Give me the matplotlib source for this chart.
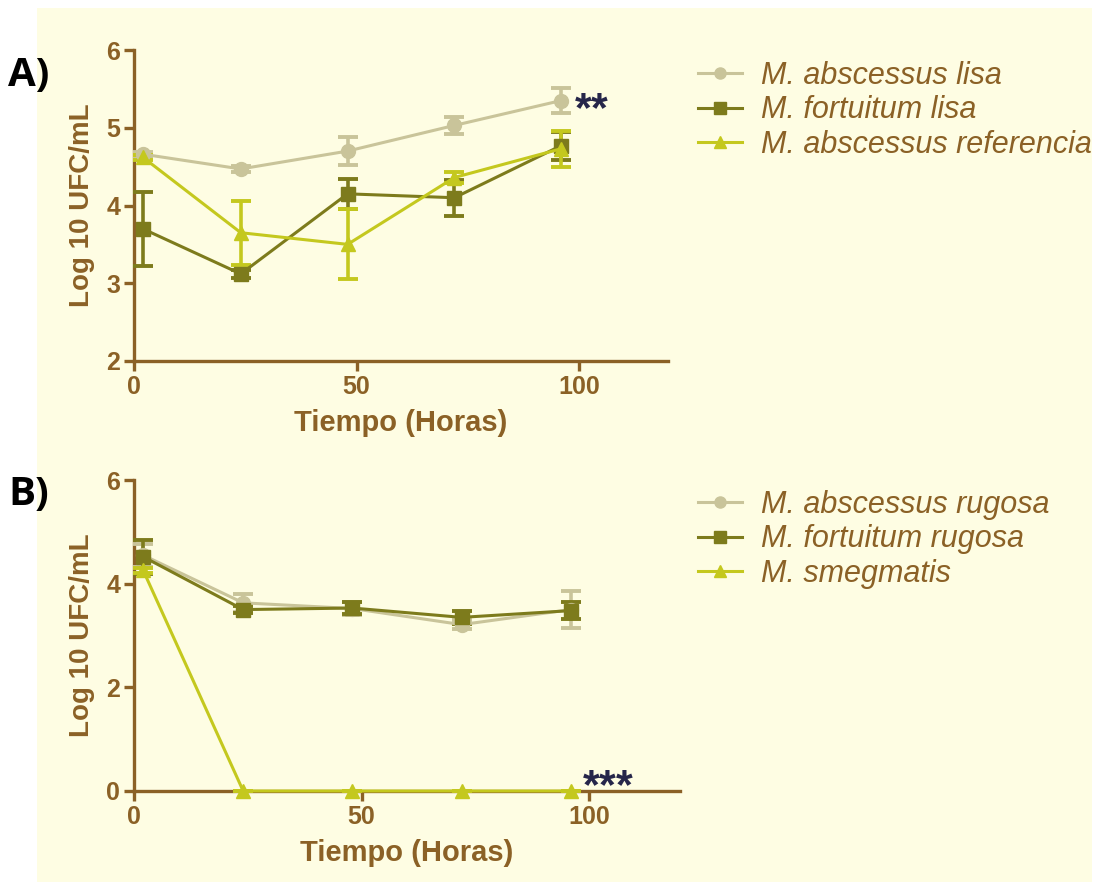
import matplotlib.pyplot as plt
from matplotlib.lines import Line2D
from matplotlib.patches import Rectangle

# Hours sampled
horas = [2, 24, 48, 72, 96]

# Panel A: smooth morphotypes
abscessus_lisa = [4.66, 4.47, 4.70, 5.03, 5.35]
abscessus_lisa_err = [0.03, 0.04, 0.18, 0.11, 0.16]
fortuitum_lisa = [3.70, 3.12, 4.15, 4.10, 4.77]
fortuitum_lisa_err = [0.48, 0.05, 0.19, 0.23, 0.18]
abscessus_ref = [4.62, 3.65, 3.50, 4.36, 4.73]
abscessus_ref_err = [0.03, 0.41, 0.45, 0.07, 0.23]

# Panel B: rough morphotypes
abscessus_rugosa = [4.55, 3.63, 3.52, 3.21, 3.50]
abscessus_rugosa_err = [0.22, 0.17, 0.12, 0.08, 0.35]
fortuitum_rugosa = [4.52, 3.50, 3.53, 3.35, 3.48]
fortuitum_rugosa_err = [0.33, 0.07, 0.12, 0.12, 0.17]
smegmatis = [4.26, 0, 0, 0, 0]
smegmatis_err = [0.05, 0, 0, 0, 0]

labels_a = ["M. abscessus lisa", "M. fortuitum lisa", "M. abscessus referencia"]
labels_b = ["M. abscessus rugosa", "M. fortuitum rugosa", "M. smegmatis"]

C_LIGHT = "#c9c49a"
C_DARK = "#7d7b1c"
C_YELLOW = "#c4c81e"
BROWN = "#8b6126"
CREAM = "#fefde3"
STARS = "#26264a"

plt.rcParams["font.family"] = ["Liberation Sans", "DejaVu Sans"]
# bold sans asterisks for the significance marks
plt.rcParams["mathtext.fontset"] = "custom"
plt.rcParams["mathtext.rm"] = "Liberation Sans:bold"
plt.rcParams["mathtext.it"] = "Liberation Sans:bold"
plt.rcParams["mathtext.bf"] = "Liberation Sans:bold"

fig = plt.figure(figsize=(10.95, 8.82), dpi=100)
fig.patch.set_facecolor("white")
fig.add_artist(Rectangle((37 / 1095, 0), 1055 / 1095, 1 - 8 / 882,
                         transform=fig.transFigure, facecolor=CREAM,
                         edgecolor="none", zorder=0))


def serie(ax, y, err, color, marker):
    ax.errorbar(horas, y, yerr=err, color=color, marker=marker, ms=10,
                lw=2.2, elinewidth=2.6, capsize=7, capthick=2.8,
                clip_on=False, zorder=3)
    return Line2D([], [], color=color, marker=marker, ms=8, lw=2.2)


def estilo(ax, yticks, ylim):
    ax.set_facecolor("none")
    ax.set_xlim(0, 120)
    ax.set_ylim(*ylim)
    ax.set_xticks([0, 50, 100])
    ax.set_yticks(yticks)
    for s in ["top", "right"]:
        ax.spines[s].set_visible(False)
    for s in ["left", "bottom"]:
        ax.spines[s].set_color(BROWN)
        ax.spines[s].set_linewidth(2.4)
    ax.tick_params(colors=BROWN, width=2.4, length=7, labelsize=18, pad=3)
    for t in ax.get_xticklabels() + ax.get_yticklabels():
        t.set_fontweight("bold")
    ax.set_xlabel("Tiempo (Horas)", fontsize=21, fontweight="bold",
                  color=BROWN, labelpad=7)
    ax.set_ylabel("Log 10 UFC/mL", fontsize=20, fontweight="bold",
                  color=BROWN, labelpad=8)


def leyenda(ax, handles, labels, top):
    leg = ax.legend(handles, labels, loc="upper left",
                    bbox_to_anchor=(698 / 1095, top),
                    bbox_transform=fig.transFigure, frameon=False,
                    fontsize=22, handlelength=1.45, handletextpad=0.6,
                    labelspacing=0.14, borderpad=0, borderaxespad=0)
    for t in leg.get_texts():
        t.set_color(BROWN)
        t.set_fontstyle("italic")


def estrellas(ax, x, y, n):
    # mathtext keeps the box tight around the asterisks
    ax.text(x, y, "$" + "{*}" * n + "$", color=STARS, fontsize=31,
            va="bottom", ha="left")


# Panel A
ax1 = fig.add_axes([134 / 1095, 1 - 361 / 882, 534 / 1095, 311 / 882])
h_a = [serie(ax1, abscessus_lisa, abscessus_lisa_err, C_LIGHT, "o"),
       serie(ax1, fortuitum_lisa, fortuitum_lisa_err, C_DARK, "s"),
       serie(ax1, abscessus_ref, abscessus_ref_err, C_YELLOW, "^")]
estilo(ax1, [2, 3, 4, 5, 6], (2, 6))
estrellas(ax1, 98.8, abscessus_lisa[-1] - 0.37, 2)
leyenda(ax1, h_a, labels_a, 1 - 61 / 882)

# Panel B
ax2 = fig.add_axes([134 / 1095, 1 - 791 / 882, 546 / 1095, 311 / 882])
h_b = [serie(ax2, abscessus_rugosa, abscessus_rugosa_err, C_LIGHT, "o"),
       serie(ax2, fortuitum_rugosa, fortuitum_rugosa_err, C_DARK, "s"),
       serie(ax2, smegmatis, smegmatis_err, C_YELLOW, "^")]
estilo(ax2, [0, 2, 4, 6], (0, 6))
estrellas(ax2, 98.4, -0.3, 3)
leyenda(ax2, h_b, labels_b, 1 - 490 / 882)

fig.text(8 / 1095, 1 - 75 / 882, "A)", fontsize=29, fontweight="bold",
         family=["Open Sans", "DejaVu Sans"], va="center")
fig.text(8 / 1095, 1 - 495 / 882, "B)", fontsize=29, fontweight="bold",
         family=["Open Sans", "DejaVu Sans"], va="center")

fig.savefig("out.png", dpi=100)
